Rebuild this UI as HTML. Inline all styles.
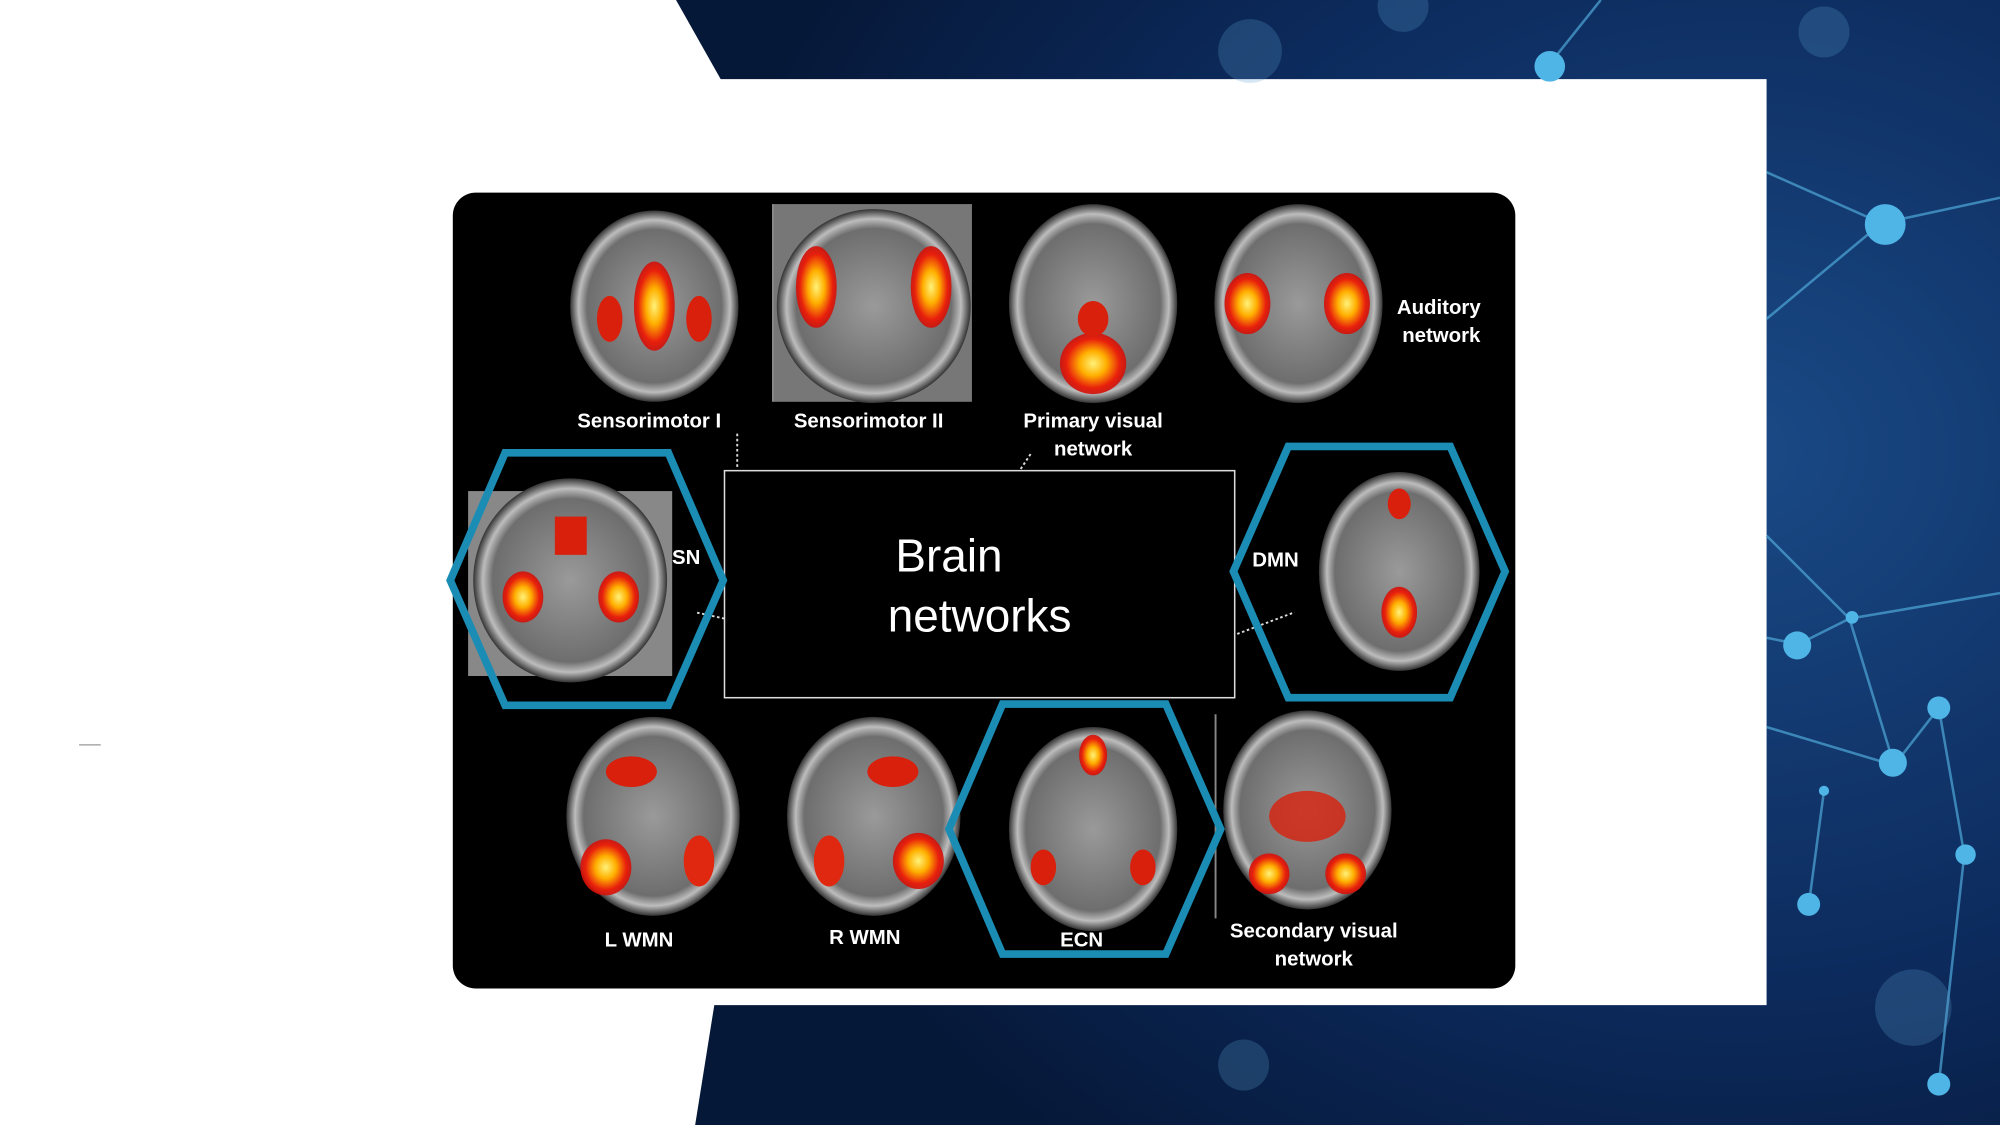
<!DOCTYPE html>
<html><head><meta charset="utf-8"><style>
html,body{margin:0;padding:0;width:2000px;height:1125px;overflow:hidden;background:#fff}
svg{display:block}
text{font-family:"Liberation Sans",sans-serif}
</style></head><body>
<svg width="2000" height="1125" viewBox="0 0 1568 882" xmlns="http://www.w3.org/2000/svg">
<defs>
<radialGradient id="bg" cx="0.8" cy="0.4" r="0.8">
<stop offset="0" stop-color="#1a4a86"/><stop offset="0.6" stop-color="#0c2a5c"/><stop offset="1" stop-color="#061838"/></radialGradient>
<radialGradient id="brain" cx="0.5" cy="0.5" r="0.5">
<stop offset="0" stop-color="#9a9a9a"/><stop offset="0.8" stop-color="#6e6e6e"/><stop offset="0.9" stop-color="#bdbdbd"/><stop offset="1" stop-color="#333"/></radialGradient>
<radialGradient id="hot" cx="0.5" cy="0.5" r="0.5">
<stop offset="0" stop-color="#fff27a"/><stop offset="0.4" stop-color="#ffb000"/><stop offset="0.8" stop-color="#e8200c"/><stop offset="1" stop-color="#d0100a" stop-opacity="0.9"/></radialGradient>
</defs>
<!-- background -->
<rect width="1568" height="882" fill="#fff"/>
<polygon points="530,0 1568,0 1568,882 545,882 560,788 1385,788 1385,62 565,62" fill="url(#bg)"/>
<g stroke="#4fa8d8" stroke-width="2" opacity="0.7" fill="none">
<polyline points="1215,50 1255,0"/>
<polyline points="1385,135 1475,175 1568,155"/>
<polyline points="1475,175 1385,250"/>
<polyline points="1385,420 1450,485 1410,505 1385,500"/>
<polyline points="1450,485 1568,465"/>
<polyline points="1450,485 1485,600 1385,570"/>
<polyline points="1485,600 1520,555 1540,670 1520,850"/>
<polyline points="1430,620 1418,710"/>
</g>
<g fill="#4fb4e6">
<circle cx="1215" cy="52" r="12"/><circle cx="1478" cy="176" r="16"/><circle cx="1409" cy="506" r="11"/>
<circle cx="1452" cy="484" r="5"/><circle cx="1484" cy="598" r="11"/><circle cx="1520" cy="555" r="9"/>
<circle cx="1541" cy="670" r="8"/><circle cx="1418" cy="709" r="9"/><circle cx="1430" cy="620" r="4"/><circle cx="1520" cy="850" r="9"/>
</g>
<g fill="#5aa0d0" opacity="0.25">
<circle cx="980" cy="40" r="25"/><circle cx="1430" cy="25" r="20"/><circle cx="1500" cy="790" r="30"/><circle cx="975" cy="835" r="20"/><circle cx="1100" cy="5" r="20"/>
</g>
<line x1="62" y1="584" x2="79" y2="584" stroke="#999" stroke-width="1"/>
<!-- black panel -->
<rect x="355" y="151" width="833" height="624" rx="18" fill="#000"/>
<!-- brains -->
<g>
<ellipse cx="513" cy="240" rx="66" ry="75" fill="url(#brain)"/>
<ellipse cx="513" cy="240" rx="16" ry="35" fill="url(#hot)"/>
<ellipse cx="478" cy="250" rx="10" ry="18" fill="#d8200c"/><ellipse cx="548" cy="250" rx="10" ry="18" fill="#d8200c"/>
<rect x="606" y="160" width="156" height="155" fill="#777"/>
<ellipse cx="685" cy="240" rx="76" ry="76" fill="url(#brain)"/>
<ellipse cx="640" cy="225" rx="16" ry="32" fill="url(#hot)"/><ellipse cx="730" cy="225" rx="16" ry="32" fill="url(#hot)"/>
<ellipse cx="857" cy="238" rx="66" ry="78" fill="url(#brain)"/>
<ellipse cx="857" cy="285" rx="26" ry="24" fill="url(#hot)"/><ellipse cx="857" cy="250" rx="12" ry="14" fill="#d8200c"/>
<ellipse cx="1018" cy="238" rx="66" ry="78" fill="url(#brain)"/>
<ellipse cx="978" cy="238" rx="18" ry="24" fill="url(#hot)"/><ellipse cx="1056" cy="238" rx="18" ry="24" fill="url(#hot)"/>
<rect x="367" y="385" width="160" height="145" fill="#888"/>
<ellipse cx="447" cy="455" rx="76" ry="80" fill="url(#brain)"/>
<ellipse cx="410" cy="468" rx="16" ry="20" fill="url(#hot)"/><ellipse cx="485" cy="468" rx="16" ry="20" fill="url(#hot)"/><rect x="435" y="405" width="25" height="30" fill="#d8200c"/>
<ellipse cx="1097" cy="448" rx="63" ry="78" fill="url(#brain)"/>
<ellipse cx="1097" cy="480" rx="14" ry="20" fill="url(#hot)"/><ellipse cx="1097" cy="395" rx="9" ry="12" fill="#d8200c"/>
<ellipse cx="512" cy="640" rx="68" ry="78" fill="url(#brain)"/>
<ellipse cx="475" cy="680" rx="20" ry="22" fill="url(#hot)"/><ellipse cx="548" cy="675" rx="12" ry="20" fill="#e02810"/><ellipse cx="495" cy="605" rx="20" ry="12" fill="#d8200c"/>
<ellipse cx="685" cy="640" rx="68" ry="78" fill="url(#brain)"/>
<ellipse cx="720" cy="675" rx="20" ry="22" fill="url(#hot)"/><ellipse cx="650" cy="675" rx="12" ry="20" fill="#e02810"/><ellipse cx="700" cy="605" rx="20" ry="12" fill="#d8200c"/>
<ellipse cx="857" cy="650" rx="66" ry="80" fill="url(#brain)"/>
<ellipse cx="857" cy="592" rx="11" ry="16" fill="url(#hot)"/><ellipse cx="818" cy="680" rx="10" ry="14" fill="#d8200c"/><ellipse cx="896" cy="680" rx="10" ry="14" fill="#d8200c"/>
<ellipse cx="1025" cy="635" rx="66" ry="78" fill="url(#brain)"/>
<ellipse cx="995" cy="685" rx="16" ry="16" fill="url(#hot)"/><ellipse cx="1055" cy="685" rx="16" ry="16" fill="url(#hot)"/><ellipse cx="1025" cy="640" rx="30" ry="20" fill="#d8200c" opacity="0.8"/>
</g>
<line x1="953" y1="560" x2="953" y2="720" stroke="#888" stroke-width="1.5"/>
<line x1="606" y1="160" x2="606" y2="315" stroke="#888" stroke-width="1.5"/>
<!-- labels -->
<g fill="#fff" font-weight="bold" font-size="16">
<text x="509" y="335" text-anchor="middle">Sensorimotor I</text>
<text x="681" y="335" text-anchor="middle">Sensorimotor II</text>
<text x="857" y="335" text-anchor="middle">Primary visual</text>
<text x="857" y="357" text-anchor="middle">network</text>
<text x="1128" y="246" text-anchor="middle">Auditory</text>
<text x="1130" y="268" text-anchor="middle">network</text>
<text x="538" y="442" text-anchor="middle">SN</text>
<text x="1000" y="444" text-anchor="middle">DMN</text>
<text x="501" y="742" text-anchor="middle">L WMN</text>
<text x="678" y="740" text-anchor="middle">R WMN</text>
<text x="848" y="742" text-anchor="middle">ECN</text>
<text x="1030" y="735" text-anchor="middle">Secondary visual</text>
<text x="1030" y="757" text-anchor="middle">network</text>
</g>
<!-- dotted connectors -->
<g stroke="#ddd" stroke-width="1.5" stroke-dasharray="2,2" fill="none">
<line x1="578" y1="340" x2="578" y2="368"/>
<line x1="808" y1="356" x2="800" y2="368"/>
<line x1="568" y1="485" x2="545" y2="480"/>
<line x1="970" y1="497" x2="1015" y2="480"/>
</g>
<!-- center box -->
<rect x="568" y="369" width="400" height="178" fill="#000" stroke="#ddd" stroke-width="1.2"/>
<text x="744" y="448" fill="#fff" font-size="36" text-anchor="middle">Brain</text>
<text x="768" y="495" fill="#fff" font-size="36" text-anchor="middle">networks</text>
<!-- hexagons -->
<g fill="none" stroke="#1b8db5" stroke-width="6" stroke-linejoin="miter">
<polygon points="353,455 396,355 524,355 567,455 524,553 396,553"/>
<polygon points="967,448 1010,350 1137,350 1180,448 1137,547 1010,547"/>
<polygon points="744,650 786,552 914,552 957,650 914,748 786,748"/>
</g>
</svg>
</body></html>
